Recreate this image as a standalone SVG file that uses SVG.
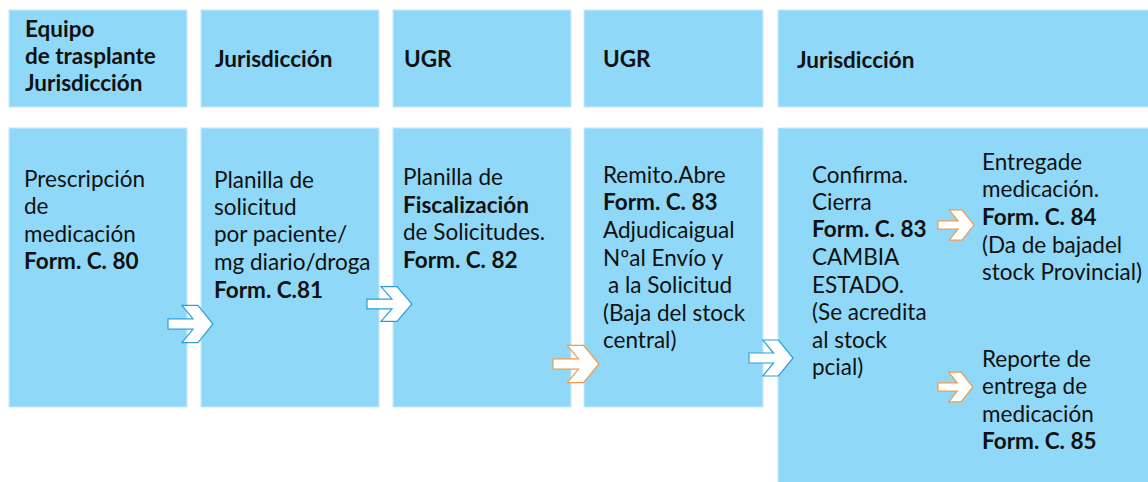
<svg xmlns="http://www.w3.org/2000/svg" width="1148" height="482" viewBox="0 0 1148 482">
<style>
.box{fill:#90d8f7;stroke:#c6ebfb;stroke-width:1}
text{font-family:Lato,"Liberation Sans",sans-serif;font-size:22.5px;fill:#111}
.b{font-weight:bold}
.ab{fill:#fff;stroke:#2a9fdc;stroke-width:1.2}
.ao{fill:#fff;stroke:#ef9a4a;stroke-width:1.2}
</style>
<defs>
<path id="arr" d="M0,-5 L25,-5 L14,-18 L30,-18 L45,0 L30,18 L14,18 L25,5 L0,5 Z" vector-effect="non-scaling-stroke"/>
</defs>
<rect width="1148" height="482" fill="#fff"/>
<g id="h1"><rect class="box" x="9" y="10" width="178" height="97"/>
<text class="b" x="25" y="37">Equipo<tspan x="25" y="64">de trasplante</tspan><tspan x="25" y="91">Jurisdicción</tspan></text></g>
<g id="h2"><rect class="box" x="201" y="10" width="178" height="97"/>
<text class="b" x="215" y="67">Jurisdicción</text></g>
<g id="h3"><rect class="box" x="393" y="10" width="178" height="97"/>
<text class="b" x="404" y="67">UGR</text></g>
<g id="h4"><rect class="box" x="584" y="10" width="179" height="97"/>
<text class="b" x="603" y="67">UGR</text></g>
<g id="h5"><rect class="box" x="778" y="10" width="371" height="97"/>
<text class="b" x="797" y="68">Jurisdicción</text></g>

<g id="n1"><rect class="box" x="9" y="128" width="178" height="279"/>
<text x="24" y="187">Prescripción<tspan x="24" y="214">de</tspan><tspan x="24" y="242">medicación</tspan><tspan class="b" x="24" y="269">Form. C. 80</tspan></text></g>
<g id="n2"><rect class="box" x="201" y="128" width="178" height="279"/>
<text x="214" y="188">Planilla de<tspan x="214" y="215">solicitud</tspan><tspan x="214" y="242">por paciente/</tspan><tspan x="214" y="270">mg diario/droga</tspan><tspan class="b" x="214" y="298">Form. C.81</tspan></text></g>
<g id="n3"><rect class="box" x="393" y="128" width="178" height="279"/>
<text x="403" y="185">Planilla de<tspan class="b" x="403" y="213">Fiscalización</tspan><tspan x="403" y="240">de Solicitudes.</tspan><tspan class="b" x="403" y="268">Form. C. 82</tspan></text></g>
<g id="n4"><rect class="box" x="584" y="128" width="179" height="279"/>
<text x="603" y="183">Remito.Abre<tspan class="b" x="603" y="210">Form. C. 83</tspan><tspan x="603" y="238">Adjudicaigual</tspan><tspan x="603" y="266">Nºal Envío y</tspan><tspan x="608" y="293">a la Solicitud</tspan><tspan x="603" y="321">(Baja del stock</tspan><tspan x="603" y="348">central)</tspan></text></g>
<g id="n5"><rect class="box" x="778" y="128" width="371" height="355"/>
<text x="812" y="183">Confirma.<tspan x="812" y="210">Cierra</tspan><tspan class="b" x="812" y="237">Form. C. 83</tspan><tspan x="812" y="265">CAMBIA</tspan><tspan x="812" y="293">ESTADO.</tspan><tspan x="812" y="320">(Se acredita</tspan><tspan x="812" y="348">al stock</tspan><tspan x="812" y="375">pcial)</tspan></text></g>
<g id="n6">
<text x="982" y="170">Entregade<tspan x="982" y="197">medicación.</tspan><tspan class="b" x="982" y="225">Form. C. 84</tspan><tspan x="982" y="253">(Da de bajadel</tspan><tspan x="982" y="280">stock Provincial)</tspan></text></g>
<g id="n7">
<text x="982" y="367">Reporte de<tspan x="982" y="394">entrega de</tspan><tspan x="982" y="422">medicación</tspan><tspan class="b" x="982" y="449">Form. C. 85</tspan></text></g>

<g id="connectors">
<use href="#arr" class="ab" transform="translate(168,324) scale(1,1.03)"/>
<use href="#arr" class="ab" transform="translate(367,304) scale(1,0.97)"/>
<use href="#arr" class="ao" transform="translate(553,364) scale(1.02,1.03)"/>
<use href="#arr" class="ab" transform="translate(749,358) scale(0.98,1)"/>
<use href="#arr" class="ao" transform="translate(938,225) scale(0.8,0.84)"/>
<use href="#arr" class="ao" transform="translate(938,387) scale(0.77,0.83)"/>
</g>
</svg>
